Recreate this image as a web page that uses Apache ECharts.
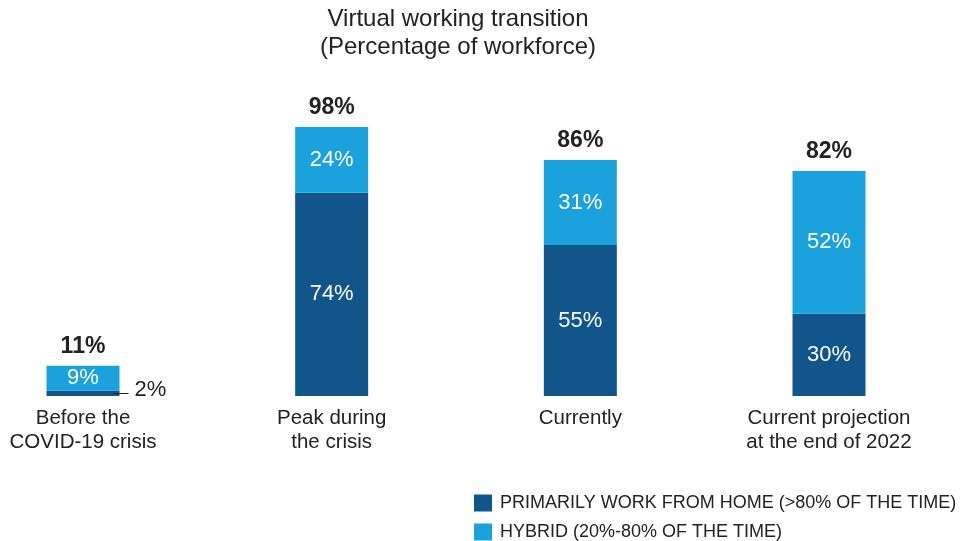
<!DOCTYPE html>
<html><head><meta charset="utf-8">
<script src="https://cdn.jsdelivr.net/npm/echarts@6/dist/echarts.min.js"></script>
<style>html,body{margin:0;padding:0;background:#fff}#c{width:960px;height:541px}</style>
</head><body><div id="c"></div>
<script>
const categories = ['Before the\nCOVID-19 crisis', 'Peak during\nthe crisis', 'Currently', 'Current projection\nat the end of 2022'];
const homeValues = [2, 74, 55, 30];
const hybridValues = [9, 24, 31, 52];
const totals = [11, 98, 86, 82];
const seriesNames = ['PRIMARILY WORK FROM HOME (>80% OF THE TIME)', 'HYBRID (20%-80% OF THE TIME)'];

const DARK = '#12558a', LIGHT = '#1ba1dc', TXT = '#222222';
const FONT = '"Liberation Sans", Arial, sans-serif';
const chart = echarts.init(document.getElementById('c'));
chart.setOption({
  animation: false,
  textStyle: { fontFamily: FONT },
  title: {
    text: 'Virtual working transition\n(Percentage of workforce)',
    left: 458, top: 5, textAlign: 'center', padding: 0,
    textStyle: { fontSize: 24, fontWeight: 'normal', color: TXT, lineHeight: 28, fontFamily: FONT }
  },
  legend: {
    data: seriesNames, orient: 'vertical', left: 474, top: 494, padding: 0,
    itemWidth: 18, itemHeight: 17, itemGap: 11, icon: 'rect',
    textStyle: { fontSize: 18, color: TXT, fontFamily: FONT, padding: [0, 0, 0, 3] }
  },
  grid: { left: 83, right: 131, top: 121.5, bottom: 145 },
  xAxis: {
    type: 'category', data: categories, boundaryGap: false,
    axisLine: { show: false }, axisTick: { show: false },
    axisLabel: { fontSize: 20.5, color: TXT, lineHeight: 24, margin: 10, interval: 0, fontFamily: FONT }
  },
  yAxis: { type: 'value', min: 0, max: 100, show: false, splitLine: { show: false } },
  series: [
    {
      name: seriesNames[0], type: 'bar', stack: 's', barWidth: 73, clip: false,
      itemStyle: { color: DARK },
      data: homeValues.map((v, i) => i === 0 ? {
        value: v,
        label: {
          position: 'right', offset: [-11, -3], color: TXT, fontSize: 22,
          formatter: '{d|—} {c}%',
          rich: { d: { fontSize: 15, color: TXT, padding: [5, 0, 0, 0] } }
        }
      } : v),
      label: { show: true, position: 'inside', color: '#fff', fontSize: 22, formatter: '{c}%', fontFamily: FONT }
    },
    {
      name: seriesNames[1], type: 'bar', stack: 's', barWidth: 73, clip: false,
      itemStyle: { color: LIGHT },
      data: hybridValues,
      label: { show: true, position: 'inside', color: '#fff', fontSize: 22, formatter: '{c}%', fontFamily: FONT }
    },
    {
      name: 'total', type: 'bar', barWidth: 73, barGap: '-100%', clip: false, z: 1,
      itemStyle: { color: 'rgba(0,0,0,0)' }, silent: true,
      data: totals,
      label: { show: true, position: 'top', distance: 8, color: TXT, fontSize: 23, fontWeight: 'bold', formatter: '{c}%', fontFamily: FONT }
    }
  ]
});
</script></body></html>
